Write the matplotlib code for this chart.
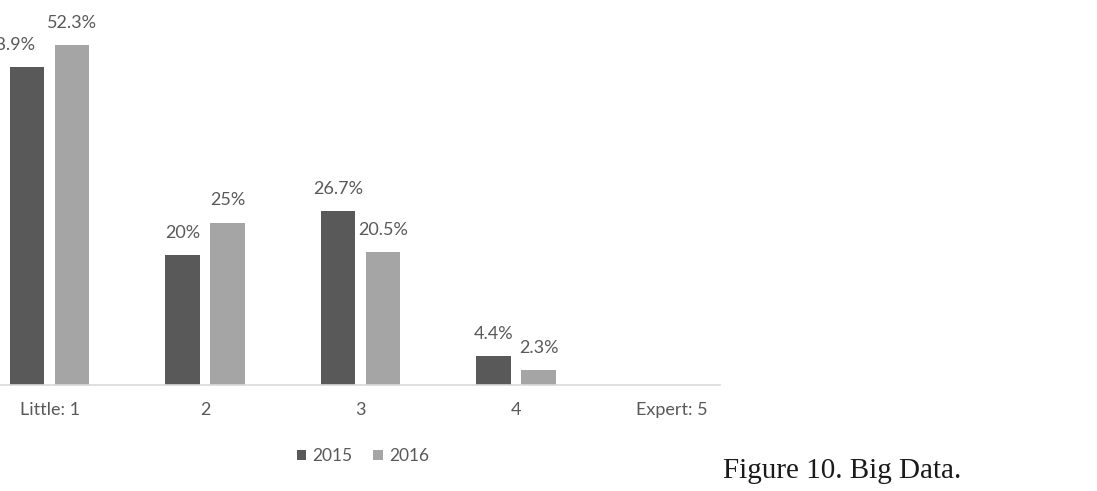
import numpy as np
import matplotlib.pyplot as plt

# datos
categorias = ['Little: 1', '2', '3', '4', 'Expert: 5']
anios = ['2015', '2016']
valores_2015 = [48.9, 20, 26.7, 4.4, None]
valores_2016 = [52.3, 25, 20.5, 2.3, None]
etiquetas_2015 = ['48.9%', '20%', '26.7%', '4.4%', '']
etiquetas_2016 = ['52.3%', '25%', '20.5%', '2.3%', '']

color_2015 = '#595959'
color_2016 = '#a5a5a5'
gris_texto = '#595959'

plt.rcParams['font.family'] = ['Lato', 'DejaVu Sans']

fig = plt.figure(figsize=(10.97, 4.91), dpi=100)
# el eje empieza fuera de la figura (el original esta recortado a la izquierda)
ax = fig.add_axes([0, 106 / 491, 720 / 1097, 357.5 / 491])

x = np.arange(len(categorias))
ancho = 0.22
desp = 0.145

# en el original la primera etiqueta de 2015 esta corrida a la izquierda
corrimiento = {(0, 0): -12}

for s, (vals, etiq, col, d, nombre) in enumerate(
        [(valores_2015, etiquetas_2015, color_2015, -desp, anios[0]),
         (valores_2016, etiquetas_2016, color_2016, desp, anios[1])]):
    idx = [i for i, v in enumerate(vals) if v is not None]
    alturas = [vals[i] for i in idx]
    ax.bar(x[idx] + d, alturas, width=ancho, color=col, label=nombre, zorder=2)
    for i in idx:
        ax.annotate(etiq[i], (x[i] + d, vals[i]), xytext=(corrimiento.get((s, i), 0), 12.3),
                    textcoords='offset points', ha='center', va='baseline', fontsize=13,
                    color=gris_texto, annotation_clip=False)

ax.set_xlim(-49.5 / 155.5, (720 - 49.5) / 155.5)
ax.set_ylim(0, 55)
ax.set_xticks(x)
ax.set_xticklabels(categorias, fontsize=13, color=gris_texto)
ax.tick_params(axis='x', length=0, pad=12.5)
ax.set_yticks([])
for lado in ['top', 'right', 'left']:
    ax.spines[lado].set_visible(False)
ax.spines['bottom'].set_color('#d9d9d9')
ax.spines['bottom'].set_linewidth(1.2)

fig.legend(loc='center', bbox_to_anchor=(363 / 1097, 1 - 456 / 491), ncol=2, frameon=False,
           fontsize=12.5, handlelength=0.55, handleheight=0.55, handletextpad=0.35,
           columnspacing=1.2, labelcolor=gris_texto)

fig.text(723 / 1097, 1 - 478 / 491, 'Figure 10. Big Data.', fontsize=21,
         family='Liberation Serif', color='#1a1a1a', ha='left', va='baseline')

fig.savefig('out.png', dpi=100)
